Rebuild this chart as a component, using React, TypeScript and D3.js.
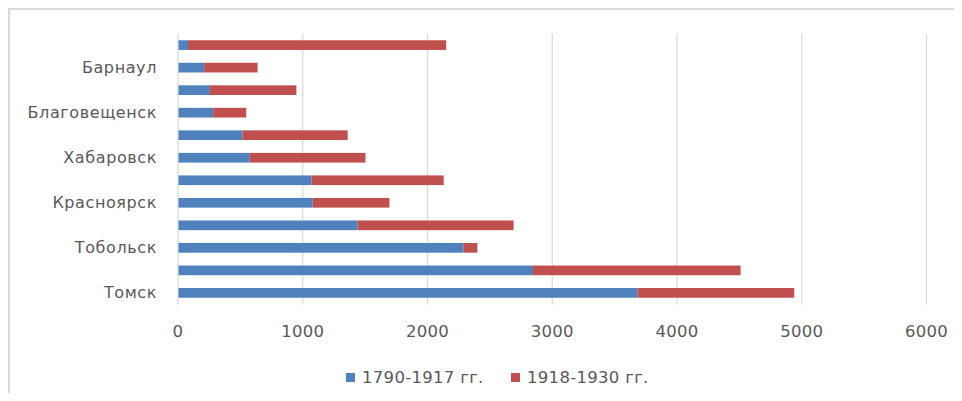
import React, { useEffect, useRef } from 'react';
import * as d3 from 'd3';

// categories from bottom (Томск) to top; only every other one gets a label in the reference
const cities = [
  'Томск',
  'Иркутск',
  'Тобольск',
  'Омск',
  'Красноярск',
  'Владивосток',
  'Хабаровск',
  'Чита',
  'Благовещенск',
  'Новониколаевск',
  'Барнаул',
  'Якутск',
];
const shownLabels = ['Томск', 'Тобольск', 'Красноярск', 'Хабаровск', 'Благовещенск', 'Барнаул'];

const before1917 = [3685, 2845, 2290, 1440, 1080, 1070, 575, 518, 282, 255, 210, 80];
const after1918 = [1255, 1665, 110, 1250, 615, 1060, 928, 842, 265, 694, 428, 2070];

const seriesNames = ['1790-1917 гг.', '1918-1930 гг.'];
const seriesColors = ['#4F81BD', '#C0504D'];
const xTicks = [0, 1000, 2000, 3000, 4000, 5000, 6000];

export default function App() {
  const svgRef = useRef<SVGSVGElement>(null);

  useEffect(() => {
    if (!svgRef.current) return;
    const svg = d3.select(svgRef.current);
    svg.selectAll('*').remove();

    const width = 962, height = 401;
    const left = 178, right = 926.5, top = 33.5, bottom = 304.5;
    const font = '"DejaVu Sans", sans-serif';
    const textColor = '#595959';

    // chart frame
    svg.append('rect')
      .attr('x', 9).attr('y', 9)
      .attr('width', width).attr('height', height)
      .attr('fill', '#fff')
      .attr('stroke', '#d9d9d9')
      .attr('stroke-width', 2);

    const x = d3.scaleLinear().domain([0, 6000]).range([left, right]);
    const y = d3.scaleBand<string>()
      .domain([...cities].reverse())
      .range([top, bottom])
      .paddingInner(0.57)
      .paddingOuter(0.3);

    // vertical gridlines
    svg.append('g')
      .selectAll('line')
      .data(xTicks.slice(1))
      .enter()
      .append('line')
      .attr('x1', d => x(d)).attr('x2', d => x(d))
      .attr('y1', top).attr('y2', bottom)
      .attr('stroke', '#d9d9d9')
      .attr('stroke-width', 1.2);

    // stacked bars
    const rows = cities.map((c, i) => ({ city: c, values: [before1917[i], after1918[i]] }));
    rows.forEach(r => {
      let acc = 0;
      r.values.forEach((v, si) => {
        svg.append('rect')
          .attr('x', x(acc))
          .attr('y', y(r.city) || 0)
          .attr('width', x(acc + v) - x(acc))
          .attr('height', y.bandwidth())
          .attr('fill', seriesColors[si]);
        acc += v;
      });
    });

    // category axis line
    svg.append('line')
      .attr('x1', left).attr('x2', left)
      .attr('y1', top).attr('y2', bottom)
      .attr('stroke', '#d9d9d9')
      .attr('stroke-width', 1.2);

    // category labels
    svg.append('g')
      .selectAll('text')
      .data(shownLabels)
      .enter()
      .append('text')
      .attr('x', 157)
      .attr('y', d => (y(d) || 0) + y.bandwidth() / 2 + 1)
      .attr('dominant-baseline', 'middle')
      .attr('text-anchor', 'end')
      .attr('font-family', font)
      .attr('font-size', 16)
      .attr('letter-spacing', 0.6)
      .attr('fill', textColor)
      .text(d => d);

    // value tick labels
    svg.append('g')
      .selectAll('text')
      .data(xTicks)
      .enter()
      .append('text')
      .attr('x', d => x(d))
      .attr('y', 337)
      .attr('text-anchor', 'middle')
      .attr('font-family', font)
      .attr('font-size', 16.5)
      .attr('letter-spacing', 0.3)
      .attr('fill', textColor)
      .text(d => d);

    // legend
    const legendX = [346, 511];
    seriesNames.forEach((name, i) => {
      svg.append('rect')
        .attr('x', legendX[i]).attr('y', 373)
        .attr('width', 9).attr('height', 9)
        .attr('fill', seriesColors[i]);
      svg.append('text')
        .attr('x', legendX[i] + 16)
        .attr('y', 382.5)
        .attr('font-family', font)
        .attr('font-size', 16.5)
        .attr('letter-spacing', 0.3)
        .attr('fill', textColor)
        .text(name);
    });
  }, []);

  return (
    <div style={{ margin: -8 }}>
      <svg ref={svgRef} width={962} height={401} style={{ display: 'block' }}></svg>
    </div>
  );
}
